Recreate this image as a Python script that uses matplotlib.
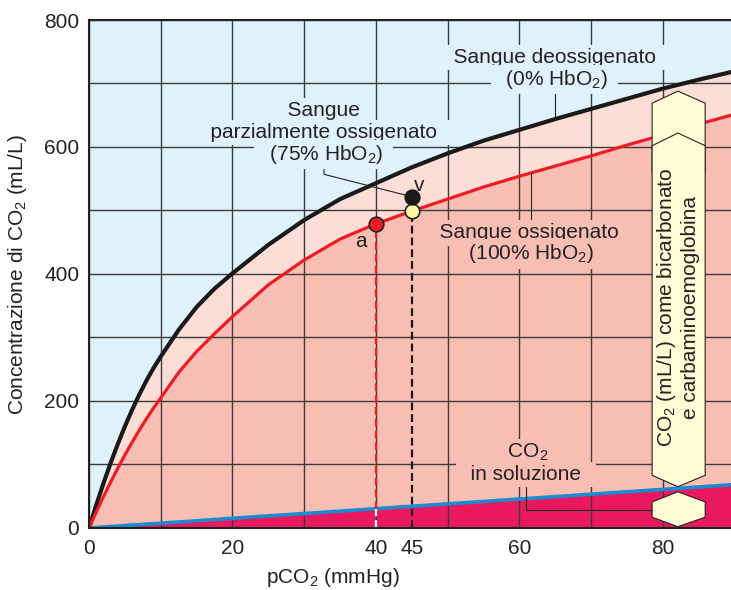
import numpy as np
import matplotlib
matplotlib.use('Agg')
from matplotlib import pyplot as plt
from matplotlib.ticker import MultipleLocator
from matplotlib.patches import Polygon

plt.rcParams['font.family'] = ['Liberation Sans', 'DejaVu Sans']
plt.rcParams['mathtext.default'] = 'regular'
plt.rcParams['font.size'] = 15

# pCO2 (mmHg) vs CO2 content (mL/L)
pco2 = [0, 1, 2, 3, 4, 5, 6, 7, 8, 9, 10, 12.5, 15, 17.5, 20, 25, 30, 35, 40, 45,
        50, 55, 60, 65, 70, 75, 80, 85, 89.5]
deoss = [0, 36, 70, 102, 132, 160, 186, 210, 232, 252, 270, 312, 348, 377, 401, 446,
         485, 518, 543, 568, 590, 610, 627, 644, 660, 676, 692, 706, 718]   # 0% HbO2
oss = [0, 25, 49, 72, 94, 115, 135, 154, 172, 189, 205, 245, 278, 306, 333, 383,
       422, 455, 479, 499, 518, 537, 554, 570, 586, 603, 619, 636, 650]     # 100% HbO2
sol_x = [0, 89.5]
sol_y = [0, 68]          # CO2 in soluzione

pt_a = (40, 479)
pt_o = (45, 499)
pt_v = (45, 521)

xticks = [0, 20, 40, 45, 60, 80]
yticks = [0, 200, 400, 600, 800]

light_blue = '#dff1fb'
pink = '#fcded6'
salmon = '#f8bdb3'
crimson = '#ea185e'
blue = '#1a8bd0'
red = '#ed1c24'
cream = '#fffbd5'

fig = plt.figure(figsize=(7.31, 5.90), dpi=100)
ax = fig.add_axes([0.1218, 0.1051, 0.8782, 0.861])
ax.set_facecolor(light_blue)
ax.set_axisbelow('line')

ax.fill_between(pco2, oss, deoss, color=pink, lw=0, zorder=1)
ax.fill_between(pco2, 0, oss, color=salmon, lw=0, zorder=1)
ax.fill_between(sol_x, 0, sol_y, color=crimson, lw=0, zorder=1.1)

ax.plot(pco2, deoss, color='#1a1a1a', lw=3, zorder=2.2)
ax.plot(pco2, oss, color=red, lw=2.3, zorder=2.2)
ax.plot(sol_x, sol_y, color=blue, lw=2.6, zorder=2.1)

# dashed drop lines
sol40 = np.interp(pt_a[0], sol_x, sol_y)
ax.plot([pt_a[0]] * 2, [sol40, pt_a[1]], color=red, lw=1.6, dashes=(3.5, 1.8), zorder=2.3)
ax.plot([pt_a[0]] * 2, [0, sol40], color='white', lw=1.6, dashes=(3.5, 1.8), zorder=2.3)
ax.plot([pt_o[0]] * 2, [0, pt_o[1]], color='#1a1a1a', lw=1.6, dashes=(3.5, 1.8), zorder=2.3)

ax.plot(*pt_a, 'o', ms=10.5, mfc=red, mec='#222222', mew=1.2, zorder=5)
ax.plot(*pt_o, 'o', ms=10.5, mfc='#fff7a8', mec='#222222', mew=1.2, zorder=5)
ax.plot(*pt_v, 'o', ms=10.5, mfc='#1a1a1a', mec='#1a1a1a', mew=1.2, zorder=5)

# leader lines
ax.plot([32.75, 32.75, 44.2], [575, 557, 524], color='#222222', lw=0.8, zorder=2.4)
ax.plot([65, 65], [690, 645], color='#222222', lw=0.8, zorder=2.4)
ax.plot([61.6, 61.6], [559, 480], color='#222222', lw=0.8, zorder=2.4)
ax.plot([60.9, 60.9, 78.5], [70, 29, 29], color='#222222', lw=0.8, zorder=2.4)

# bracket shapes
upper = Polygon([(78.5, 669), (82.1, 688), (85.9, 669), (85.9, 560), (78.5, 560)],
                closed=True, fc=cream, ec='#222222', lw=0.8, zorder=4)
lower = Polygon([(78.5, 602), (82.1, 622), (85.9, 602), (85.9, 83), (82.1, 65), (78.5, 83)],
                closed=True, fc=cream, ec='#222222', lw=0.8, zorder=4.1)
small = Polygon([(78.5, 41), (82.1, 57), (85.9, 41), (85.9, 17), (82.1, 2), (78.5, 17)],
                closed=True, fc=cream, ec='#222222', lw=0.8, zorder=4.1)
for p in (upper, lower, small):
    ax.add_patch(p)

ax.text(82.0, 348, 'CO$_2$ (mL/L) come bicarbonato\ne carbaminoemoglobina', rotation=90,
        ha='center', va='center', multialignment='center', color='#222222', zorder=6)

def label(x, y, s, bg):
    ax.text(x, y, '  ' + s + '  ', ha='center', va='baseline', color='#222222', zorder=3,
            bbox=dict(boxstyle='square,pad=0.15', fc=bg, ec='none'))

label(64.9, 732, 'Sangue deossigenato', light_blue)
label(64.9, 698, '(0% HbO$_2$)', light_blue)
label(32.75, 649, 'Sangue', light_blue)
label(32.75, 614, 'parzialmente ossigenato', light_blue)
label(32.75, 580, '(75% HbO$_2$)', light_blue)
label(61.4, 456, 'Sangue ossigenato', salmon)
label(61.4, 423, '(100% HbO$_2$)', salmon)
label(60.85, 110, 'CO$_2$', salmon)
label(60.9, 76, 'in soluzione', salmon)
ax.text(46.0, 531, 'v', ha='center', va='baseline', color='#222222', zorder=6)
ax.text(37.9, 442, 'a', ha='center', va='baseline', color='#222222', zorder=6)

ax.set_xlim(0, 89.5)
ax.set_ylim(0, 800)
ax.set_xticks(xticks)
ax.set_yticks(yticks)
ax.xaxis.set_minor_locator(MultipleLocator(10))
ax.yaxis.set_minor_locator(MultipleLocator(100))
ax.xaxis.remove_overlapping_locs = False
ax.yaxis.remove_overlapping_locs = False
ax.grid(which='minor', color='#3c3c3c', lw=1.0)
ax.grid(which='major', visible=False)
ax.tick_params(which='both', length=0, labelsize=15, colors='#222222')
ax.tick_params(axis='x', pad=8)
ax.tick_params(axis='y', pad=7)
for s in ('left', 'bottom', 'top'):
    ax.spines[s].set_linewidth(1.5)
    ax.spines[s].set_color('#222222')
ax.spines['right'].set_visible(False)

ax.set_xlabel('pCO$_2$ (mmHg)', color='#222222')
ax.set_ylabel('Concentrazione di CO$_2$ (mL/L)', color='#222222')
ax.xaxis.set_label_coords((333 - 89) / 642, -0.074)
ax.yaxis.set_label_coords(-0.093, 0.5)

fig.savefig('out.png', dpi=100)
